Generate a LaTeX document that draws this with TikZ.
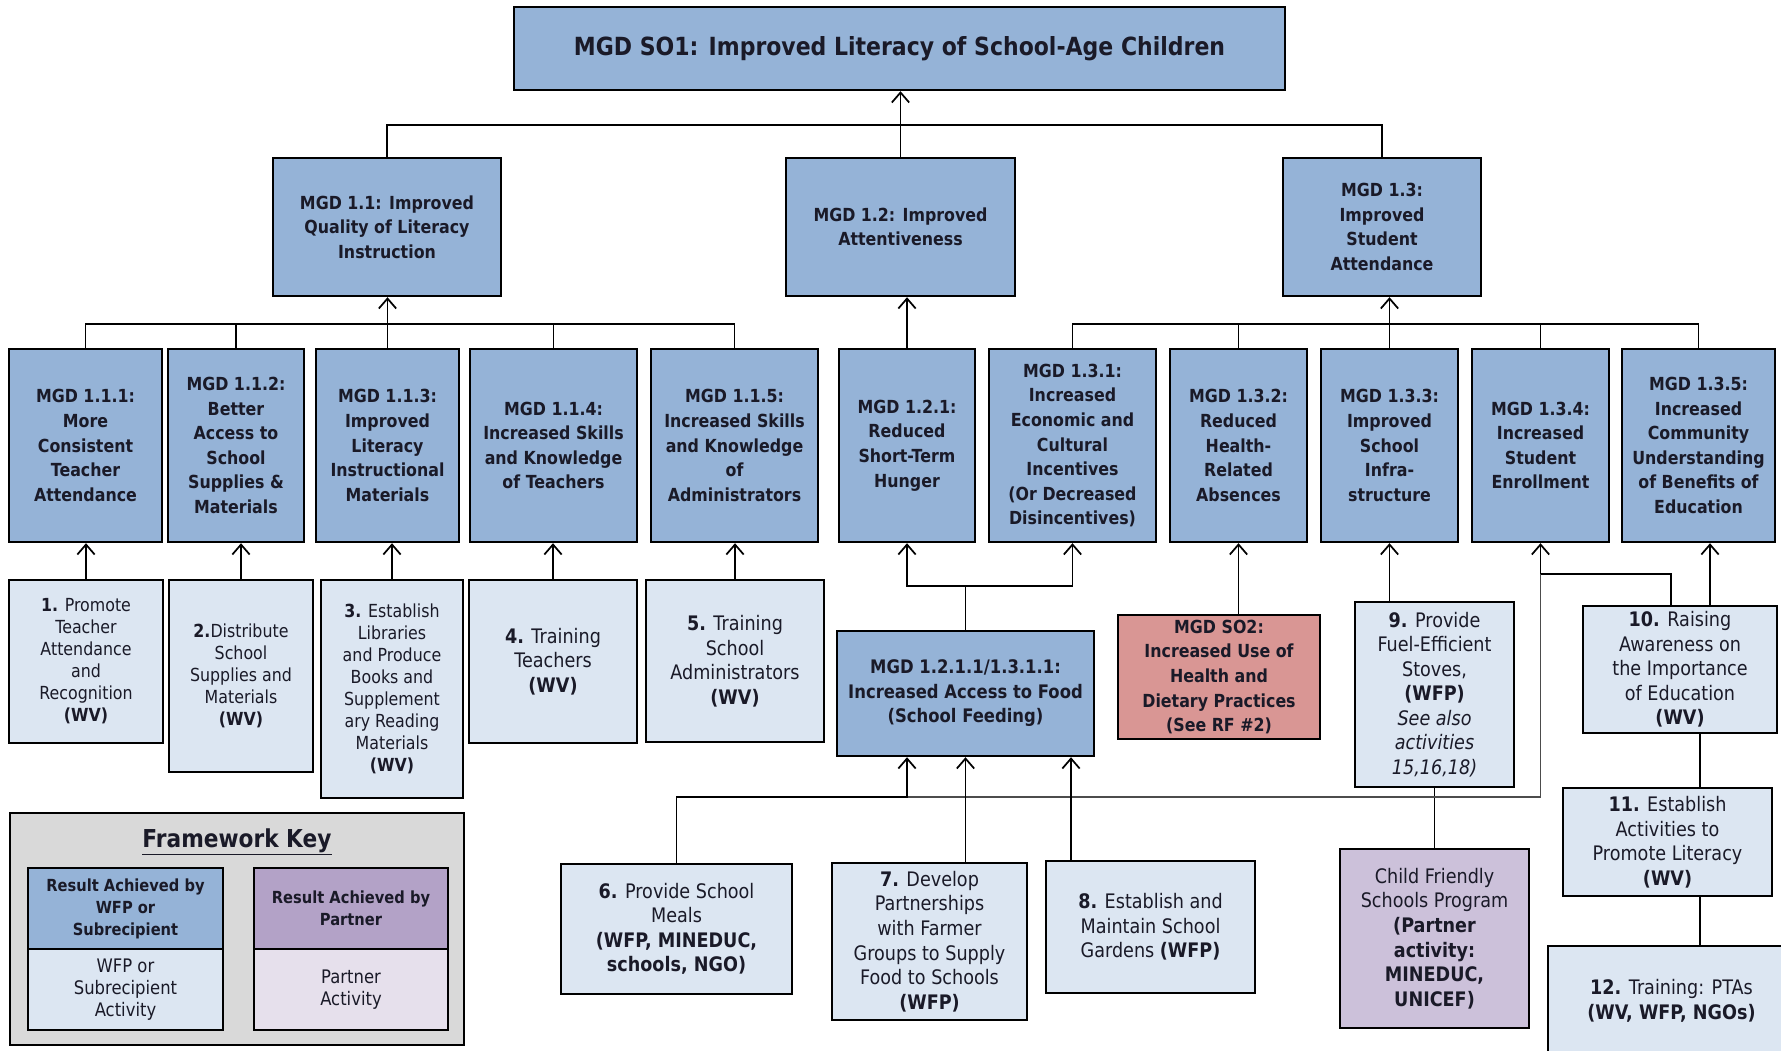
\documentclass[tikz,border=0pt]{standalone}
\usepackage{fontspec}
\setmainfont{DejaVu Sans}[FakeStretch=0.88,BoldFont={DejaVu Sans Bold},ItalicFont={DejaVu Sans Oblique},BoldItalicFont={DejaVu Sans Bold Oblique}]
\usetikzlibrary{arrows.meta}
\definecolor{blueD}{HTML}{95B3D7}
\definecolor{blueL}{HTML}{DCE6F2}
\definecolor{redS}{HTML}{D99694}
\definecolor{purpCF}{HTML}{CCC1DA}
\definecolor{purpH}{HTML}{B3A2C7}
\definecolor{purpL}{HTML}{E6E0EC}
\definecolor{keybg}{HTML}{D9D9D9}
\definecolor{txt}{HTML}{1A1A28}
\newcommand\mybox[7]{%
  \node[#6, minimum width={(#4-#2)*0.75pt}, minimum height={(#5-#3)*0.75pt}] (#1) at ({(#2+#4)/2},{(#3+#5)/2}) {#7};}
\tikzset{
  base/.style={draw=black, line width=1.8pt, align=center, inner sep=1pt, text=txt},
  mgd/.style={base, fill=blueD, font=\bfseries\fontsize{13.5}{18.4}\selectfont},
  topbox/.style={base, fill=blueD, font=\bfseries\fontsize{18.75}{22}\selectfont},
  feedbox/.style={base, fill=blueD, font=\bfseries\fontsize{14}{18.4}\selectfont},
  sotwo/.style={base, fill=redS, font=\bfseries\fontsize{13.5}{18.4}\selectfont},
  act/.style={base, fill=blueL, font=\fontsize{15}{18.4}\selectfont},
  actsm/.style={base, fill=blueL, font=\fontsize{13.5}{16.5}\selectfont},
  partner/.style={base, fill=purpCF, font=\fontsize{15}{18.4}\selectfont},
  keyouter/.style={draw=black, line width=1.8pt, fill=keybg},
  keyh/.style={base, font=\bfseries\fontsize{12.5}{16.5}\selectfont},
  keyb/.style={base, font=\fontsize{14}{16.5}\selectfont},
  conn/.style={draw=black, line width=1.3pt},
  arr/.style={conn, -{Straight Barb[length=7.5pt,width=13pt]}},
  greyconn/.style={draw=black!70, line width=1pt},
}
\begin{document}
\begin{tikzpicture}[x=0.75pt,y=-0.75pt]
\path[use as bounding box] (0,0) rectangle (1781,1050);
\clip (0,0) rectangle (1781,1050);
\fill[white] (0,0) rectangle (1781,1050);

% ---- top levels
\mybox{top}{514}{7}{1285}{90}{topbox}{MGD SO1: Improved Literacy of School-Age Children}
\mybox{n11}{273}{158}{501}{296}{mgd}{MGD 1.1: Improved\\Quality of Literacy\\Instruction}
\mybox{n12}{786}{158}{1015}{296}{mgd}{MGD 1.2: Improved\\Attentiveness}
\mybox{n13}{1283}{158}{1481}{296}{mgd}{MGD 1.3:\\Improved\\Student\\Attendance}

% ---- row 3
\mybox{r111}{9}{349}{162}{542}{mgd}{MGD 1.1.1:\\More\\Consistent\\Teacher\\Attendance}
\mybox{r112}{168}{349}{304}{542}{mgd}{MGD 1.1.2:\\Better\\Access to\\School\\Supplies \&\\Materials}
\mybox{r113}{316}{349}{459}{542}{mgd}{MGD 1.1.3:\\Improved\\Literacy\\Instructional\\Materials}
\mybox{r114}{470}{349}{637}{542}{mgd}{MGD 1.1.4:\\Increased Skills\\and Knowledge\\of Teachers}
\mybox{r115}{651}{349}{818}{542}{mgd}{MGD 1.1.5:\\Increased Skills\\and Knowledge\\of\\Administrators}
\mybox{r121}{839}{349}{975}{542}{mgd}{MGD 1.2.1:\\Reduced\\Short-Term\\Hunger}
\mybox{r131}{989}{349}{1156}{542}{mgd}{MGD 1.3.1:\\Increased\\Economic and\\Cultural\\Incentives\\(Or Decreased\\Disincentives)}
\mybox{r132}{1170}{349}{1307}{542}{mgd}{MGD 1.3.2:\\Reduced\\Health-\\Related\\Absences}
\mybox{r133}{1321}{349}{1458}{542}{mgd}{MGD 1.3.3:\\Improved\\School\\Infra-\\structure}
\mybox{r134}{1472}{349}{1609}{542}{mgd}{MGD 1.3.4:\\Increased\\Student\\Enrollment}
\mybox{r135}{1622}{349}{1775}{542}{mgd}{MGD 1.3.5:\\Increased\\Community\\Understanding\\of Benefits of\\Education}

% ---- activities
\mybox{a1}{9}{580}{163}{743}{actsm}{\textbf{1.} Promote\\Teacher\\Attendance\\and\\Recognition\\\textbf{(WV)}}
\mybox{a2}{169}{580}{313}{772}{actsm}{\textbf{2.}Distribute\\School\\Supplies and\\Materials\\\textbf{(WV)}}
\mybox{a3}{321}{580}{463}{798}{actsm}{\textbf{3.} Establish\\Libraries\\and Produce\\Books and\\Supplement\\ary Reading\\Materials\\\textbf{(WV)}}
\mybox{a4}{469}{580}{637}{743}{act}{\textbf{4.} Training\\Teachers\\\textbf{(WV)}}
\mybox{a5}{646}{580}{824}{742}{act}{\textbf{5.} Training\\School\\Administrators\\\textbf{(WV)}}
\mybox{feed}{837}{631}{1094}{756}{feedbox}{MGD 1.2.1.1/1.3.1.1:\\Increased Access to Food\\(School Feeding)}
\mybox{so2}{1118}{615}{1320}{739}{sotwo}{MGD SO2:\\Increased Use of\\Health and\\Dietary Practices\\(See RF \#2)}
\mybox{a9}{1355}{602}{1514}{787}{act}{\textbf{9.} Provide\\Fuel-Efficient\\Stoves,\\\textbf{(WFP)}\\\textit{See also}\\\textit{activities}\\\textit{15,16,18)}}
\mybox{a10}{1583}{606}{1777}{733}{act}{\textbf{10.} Raising\\Awareness on\\the Importance\\of Education\\\textbf{(WV)}}
\mybox{a11}{1563}{788}{1772}{896}{act}{\textbf{11.} Establish\\Activities to\\Promote Literacy\\\textbf{(WV)}}
\mybox{a12}{1548}{946}{1795}{1056}{act}{\textbf{12.} Training: PTAs\\\textbf{(WV, WFP, NGOs)}}
\mybox{a6}{561}{864}{792}{994}{act}{\textbf{6.} Provide School\\Meals\\\textbf{(WFP, MINEDUC,}\\\textbf{schools, NGO)}}
\mybox{a7}{832}{863}{1027}{1020}{act}{\textbf{7.} Develop\\Partnerships\\with Farmer\\Groups to Supply\\Food to Schools\\\textbf{(WFP)}}
\mybox{a8}{1046}{861}{1255}{993}{act}{\textbf{8.} Establish and\\Maintain School\\Gardens \textbf{(WFP)}}
\mybox{cf}{1340}{849}{1529}{1028}{partner}{Child Friendly\\Schools Program\\\textbf{(Partner}\\\textbf{activity:}\\\textbf{MINEDUC,}\\\textbf{UNICEF)}}

% ---- key
\mybox{key}{10}{813}{464}{1045}{keyouter}{}
\node[font=\bfseries\fontsize{18.5}{22}\selectfont, text=txt] (keytitle) at (237,842) {\underline{Framework Key}};
\mybox{k1h}{28}{868}{223}{949}{keyh, fill=blueD}{Result Achieved by\\WFP or\\Subrecipient}
\mybox{k1b}{28}{949}{223}{1030}{keyb, fill=blueL}{WFP or\\Subrecipient\\Activity}
\mybox{k2h}{254}{868}{448}{949}{keyh, fill=purpH}{Result Achieved by\\Partner}
\mybox{k2b}{254}{949}{448}{1030}{keyb, fill=purpL}{Partner\\Activity}

% ---- coordinates for bends
\coordinate (tb) at (0,125);
\coordinate (b1) at (0,324);
\coordinate (fb) at (0,586);
\coordinate (by) at (0,574);
\coordinate (hy) at (0,797);
\coordinate (fa) at (907,797);
\coordinate (p10a) at (1671,606);
\coordinate (p10b) at (1710,606);
\coordinate (p8) at (1071,861);
\coordinate (px) at (1700,0);

% ---- connectors: top
\draw[conn] (n11.north) -- (n11.north |- tb) -- (n13.north |- tb) -- (n13.north);
\draw[arr] (n12.north) -- (n12.north |- top.south);

% ---- row 3 to level 2
\draw[conn] (r111.north) -- (r111.north |- b1) -- (r115.north |- b1) -- (r115.north);
\draw[conn] (r112.north) -- (r112.north |- b1);
\draw[conn] (r114.north) -- (r114.north |- b1);
\draw[arr] (r113.north) -- (r113.north |- n11.south);
\draw[arr] (r121.north) -- (r121.north |- n12.south);
\draw[conn] (r131.north) -- (r131.north |- b1) -- (r135.north |- b1) -- (r135.north);
\draw[conn] (r132.north) -- (r132.north |- b1);
\draw[conn] (r134.north) -- (r134.north |- b1);
\draw[arr] (r133.north) -- (r133.north |- n13.south);

% ---- activities to row 3
\draw[arr] (a1.north) -- (a1.north |- r111.south);
\draw[arr] (a2.north) -- (a2.north |- r112.south);
\draw[arr] (a3.north) -- (a3.north |- r113.south);
\draw[arr] (a4.north) -- (a4.north |- r114.south);
\draw[arr] (a5.north) -- (a5.north |- r115.south);
\draw[conn] (feed.north) -- (feed.north |- fb);
\draw[arr] (feed.north |- fb) -| (r121.south);
\draw[arr] (feed.north |- fb) -| (r131.south);
\draw[arr] (r132.south |- so2.north) -- (r132.south);
\draw[arr] (r133.south |- a9.north) -- (r133.south);
\draw[conn] (a9.south) -- (a9.south |- cf.north);
\draw[arr] (p10b) -- (p10b |- r135.south);
\draw[arr] (p10a) -- (p10a |- by) -| (r134.south);
\draw[greyconn] (r134.south |- by) -- (r134.south |- hy) -- (fa);
\draw[conn] (px |- a10.south) -- (px |- a11.north);
\draw[conn] (px |- a11.south) -- (px |- a12.north);

% ---- to feeding box
\draw[arr] (a6.north) |- (fa) -- (fa |- feed.south);
\draw[arr] (feed.south |- a7.north) -- (feed.south);
\draw[arr] (p8) -- (p8 |- feed.south);
\end{tikzpicture}
\end{document}
